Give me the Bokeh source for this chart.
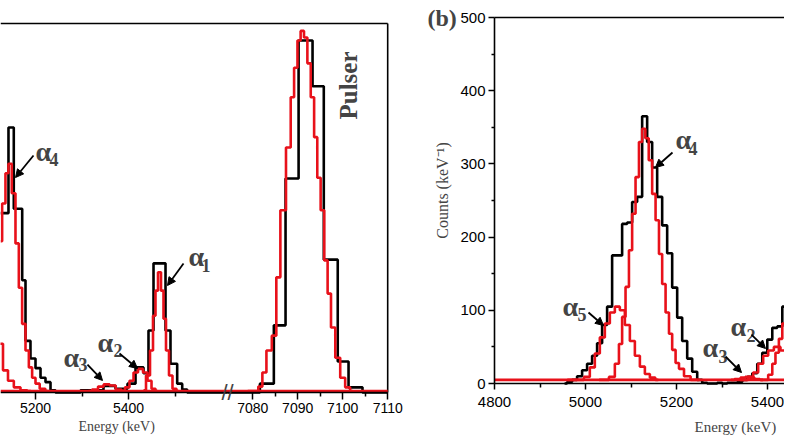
import numpy as np
from bokeh.plotting import figure
from bokeh.layouts import row
from bokeh.models import Range1d, FixedTicker, Label, Arrow, NormalHead, Title
from bokeh.embed import file_html
from bokeh.resources import INLINE

RED = "#e8111a"

# ---------------- panel (a) data ----------------
a_black_lo_edges = [5124.7, 5141.9, 5153.3, 5171.4, 5178.5, 5189.2, 5200.0, 5210.8, 5221.5, 5232.3,
                    5243.0, 5296.8, 5346.2, 5372.0, 5397.8, 5415.1, 5432.3, 5443.0, 5453.8, 5479.6,
                    5490.3, 5504.7, 5515.5, 5526.2]
a_black_lo_counts = [243, 359, 249, 152, 70, 46, 33, 20, 14, 3,
                     0, 3, 9, 5, 12, 34, 26, 84, 175, 84, 39, 12, 4]
a_black_hi_edges = [7081.6, 7084.7, 7087.3, 7090.2, 7093.3, 7095.8, 7098.9, 7101.3, 7104.4]
a_black_hi_counts = [12, 91, 290, 477, 415, 180, 42, 7]

a_red_a5_E = [5110.0, 5124.7, 5135.5, 5146.2, 5160.6, 5174.8, 5190.0]
a_red_a5_C = [95, 66, 30, 16, 7, 3, 2]
a_red_a4_E = [5124.7, 5131.8, 5139.0, 5144.7, 5153.3, 5160.6, 5167.7, 5174.8, 5182.2, 5189.2,
              5196.3, 5203.7, 5214.4, 5228.0]
a_red_a4_C = [205, 256, 297, 310, 270, 202, 142, 93, 57, 34, 20, 12, 5, 2]
a_red_a3_E = [5314, 5329, 5340, 5353, 5366, 5379, 5391]
a_red_a3_C = [2, 4, 8, 11, 9.5, 4, 2]
a_red_a2_E = [5387.1, 5397.8, 5406.5, 5415.1, 5425.8, 5436.6, 5445.2, 5453.8, 5462.4]
a_red_a2_C = [2, 7, 16, 27, 32, 27, 16, 5, 2]
a_red_a1_E = [5432.3, 5443.0, 5449.5, 5455.9, 5460.2, 5466.7, 5473.1, 5477.4, 5483.9, 5490.3,
              5498.9, 5507.5]
a_red_a1_C = [3, 23, 57, 104, 138, 163, 138, 100, 57, 23, 5, 2]
a_red_pulser_E = [7078.9, 7080.7, 7081.8, 7082.5, 7083.6, 7084.9, 7085.6, 7086.7, 7088.1, 7088.8,
                  7089.6, 7090.3, 7091.0, 7091.8, 7092.5, 7093.3, 7094.0, 7094.7, 7095.5, 7096.3,
                  7097.0, 7097.8, 7098.9, 7100.0, 7101.1, 7102.2]
a_red_pulser_C = [2, 2, 8, 27, 57, 77, 156, 247, 332, 400,
                  440, 477, 490, 481, 446, 400, 346, 291, 247, 179,
                  134, 88, 47, 20, 7, 2]
a_red_bg_E = [5124.7, 7110.0]
a_red_bg_C = [2, 2]
a_ticks = [5200, 5400, 7080, 7090, 7100, 7110]
a_minor = [5300, 5500, 7085, 7095, 7105]

# ---------------- panel (b) data ----------------
b_black_E = [4954, 4965, 4976, 4987, 4998, 5009, 5020, 5031, 5042, 5053,
             5064, 5075, 5086, 5097, 5108, 5119, 5130, 5141, 5152, 5163,
             5174, 5185, 5196, 5207, 5218, 5229, 5240, 5251, 5262, 5273,
             5284, 5295, 5306, 5317, 5328, 5339, 5350, 5361, 5372, 5383,
             5394, 5405, 5416, 5427, 5438, 5449, 5460]
b_black_C = [0, 2, 5, 10, 18, 27, 38, 55, 80, 105,
             175, 175, 218, 220, 248, 255, 365, 330, 295, 255,
             216, 178, 131, 90, 58, 34, 16, 5, 1, 0,
             0, 1, 0, 1, 1, 2, 5, 9, 14, 27,
             42, 60, 76, 78, 105, 130, 160]
b_red_a5_E = [4960, 4989, 5004, 5015, 5026, 5037, 5048, 5059, 5070, 5081, 5092, 5103, 5114, 5125,
              5136, 5147, 5160]
b_red_a5_C = [5, 5, 9, 22, 41, 63, 82, 97, 105, 100, 80, 58, 38, 23, 13, 8, 5]
b_red_a4_E = [5030, 5044, 5059, 5070, 5077, 5084, 5092, 5099, 5106, 5114, 5121, 5128, 5135, 5143,
              5150, 5158, 5165, 5172, 5180, 5187, 5194, 5202, 5209, 5224, 5238, 5250]
b_red_a4_C = [5, 5, 9, 27, 54, 91, 132, 182, 232, 282, 330, 348, 335, 305,
              259, 223, 177, 136, 97, 68, 46, 28, 20, 10, 5, 5]
b_red_a3_E = [5320, 5335, 5346, 5356, 5366, 5377, 5390]
b_red_a3_C = [5, 6, 8, 9, 8, 6, 5]
b_red_a2_E = [5340, 5352, 5363, 5374, 5385, 5396, 5407, 5421, 5436, 5447, 5458, 5469, 5480]
b_red_a2_C = [5, 5, 9, 15, 27, 38, 45, 50, 45, 34, 20, 8, 5]
b_red_a1_E = [5385, 5396, 5407, 5414, 5421, 5429, 5436, 5443, 5451, 5458, 5465, 5473]
b_red_a1_C = [5, 5, 12, 27, 42, 61, 82, 108, 128, 138, 133, 122]
b_red_bg_E = [4800.0, 5480.0]
b_red_bg_C = [5, 5]
b_ticks = [4800, 5000, 5200, 5400]
b_minor = [4900, 5100, 5300]
b_yticks = [0, 100, 200, 300, 400, 500]
b_yminor = [50, 150, 250, 350, 450]

# ---------------- broken axis transform for panel (a) ----------------
LO_END = 5612.9
HI_START = 7074.4
HI_STRETCH = 9.677


def brk(E):
    E = np.asarray(E, dtype=float)
    return np.where(E <= LO_END, E, LO_END + (E - HI_START) * HI_STRETCH)


def style_axis(ax, size):
    ax.axis_line_width = 1.6
    ax.major_tick_in = 0
    ax.major_tick_out = 7
    ax.minor_tick_in = 0
    ax.minor_tick_out = 4
    ax.major_tick_line_width = 1.5
    ax.minor_tick_line_width = 1.5
    ax.major_label_text_font = "Liberation Sans"
    ax.major_label_text_font_size = size
    ax.major_label_text_color = "black"


def alpha_label(p, xa, ya, xs, ys, sub):
    p.add_layout(Label(x=xa, y=ya, text="α", text_font="Liberation Serif", text_font_style="bold",
                       text_font_size="28px", text_align="left", text_baseline="alphabetic"))
    p.add_layout(Label(x=xs, y=ys, text=sub, text_font="Liberation Serif", text_font_style="bold",
                       text_font_size="18px", text_align="left", text_baseline="alphabetic"))


def arrow(p, x0, y0, x1, y1):
    p.add_layout(Arrow(end=NormalHead(size=8, fill_color="black", line_color="black"),
                       x_start=x0, y_start=y0, x_end=x1, y_end=y1,
                       line_color="black", line_width=1.8))


H = 438
BOTTOM = 22
FRAME_BOTTOM = H - BOTTOM   # pixel row of the frame bottom

# ---------------- figure (a) ----------------
u_start = 5124.73
u_end = float(brk(7110))
pa = figure(width=458, height=H, output_backend="svg", toolbar_location=None,
            x_range=Range1d(u_start, u_start + 458 / 0.465),
            y_range=Range1d(-(FRAME_BOTTOM - 392) / 0.738, 392 / 0.738),
            y_axis_location=None, min_border_left=0, min_border_right=0,
            min_border_top=0, min_border_bottom=BOTTOM)
pa.grid.visible = False
pa.outline_line_color = None

tk = [round(float(v), 3) for v in brk(a_ticks)]
mk = [round(float(v), 3) for v in brk(a_minor)]
pa.xaxis.ticker = FixedTicker(ticks=tk, minor_ticks=mk)
pa.xaxis.major_label_overrides = {t: str(l) for t, l in zip(tk, a_ticks)}
pa.xaxis.bounds = (u_start, u_end + 0.01)
pa.xaxis.fixed_location = 0
style_axis(pa.xaxis[0], "14px")
pa.xaxis.major_label_standoff = 3

# frame borders of panel (a)
pa.segment(x0=[u_start, u_end], y0=[500, 0], x1=[u_end, u_end], y1=[500, 500],
           line_color="black", line_width=1.6)

# black data
xs_lo = list(a_black_lo_edges) + [LO_END]
ys_lo = list(a_black_lo_counts) + [0, 0]
pa.step(xs_lo, ys_lo, mode="after", line_color="black", line_width=2.6)
xs_hi = [HI_START] + list(a_black_hi_edges) + [7110.0]
ys_hi = [0] + list(a_black_hi_counts) + [0, 0]
pa.step(brk(xs_hi), ys_hi, mode="after", line_color="black", line_width=2.6)

# red fits
pa.line(brk(a_red_bg_E), a_red_bg_C, line_color=RED, line_width=2.6)
for E, C in [(a_red_a5_E, a_red_a5_C), (a_red_a4_E, a_red_a4_C), (a_red_a3_E, a_red_a3_C),
             (a_red_a2_E, a_red_a2_C), (a_red_a1_E, a_red_a1_C), (a_red_pulser_E, a_red_pulser_C)]:
    pa.step(brk(E), C, mode="center", line_color=RED, line_width=2.6)

alpha_label(pa, 5200.0, 326.6, 5230.1, 315.8, "4")
arrow(pa, 5195.7, 321.1, 5157.0, 291.3)
alpha_label(pa, 5529.0, 184.3, 5557.0, 172.1, "1")
arrow(pa, 5518.3, 174.8, 5483.9, 145.0)
alpha_label(pa, 5333.3, 67.8, 5367.7, 56.9, "2")
arrow(pa, 5380.6, 52.8, 5419.4, 32.5)
alpha_label(pa, 5260.2, 47.4, 5292.5, 38.0, "3")
arrow(pa, 5311.8, 37.9, 5344.1, 16.3)

pa.add_layout(Label(x=5873.1, y=416.0, text="Pulser", angle=np.pi / 2, text_font="Liberation Serif",
                    text_font_style="bold", text_font_size="25px", text_align="center",
                    text_baseline="middle"))
pa.add_layout(Label(x=LO_END, y=0, text="//", text_font="Liberation Sans",
                    text_font_size="22px", text_align="center", text_baseline="middle"))
# labels of panel (b) that lie left of its axis
pa.add_layout(Label(x=6043.0, y=508.1, text="(b)", text_font="Liberation Serif", text_font_style="bold",
                    text_font_size="24px", text_align="left", text_baseline="alphabetic"))
pa.add_layout(Label(x=6075.3, y=273.7, text="Counts (keV⁻¹)", angle=np.pi / 2,
                    text_font="Liberation Serif", text_font_size="16px", text_align="center",
                    text_baseline="middle"))
pa.add_layout(Title(text="Energy (keV)", align="left", offset=78, standoff=0,
                    text_font="Liberation Serif", text_font_size="14px", text_font_style="normal"),
              "below")

# ---------------- figure (b) ----------------
x_start_b = 4800 - 36 / 0.455
x_end_b = 4800 + 290 / 0.455
pb = figure(width=326, height=H, output_backend="svg", toolbar_location=None,
            x_range=Range1d(x_start_b, x_end_b),
            y_range=Range1d(-(FRAME_BOTTOM - 383) / 0.732, 500 + 17 / 0.732),
            min_border_left=0, min_border_right=0, min_border_top=0, min_border_bottom=BOTTOM)
pb.grid.visible = False
pb.outline_line_color = None
pb.xaxis.ticker = FixedTicker(ticks=b_ticks, minor_ticks=b_minor)
pb.yaxis.ticker = FixedTicker(ticks=b_yticks, minor_ticks=b_yminor)
style_axis(pb.xaxis[0], "15px")
style_axis(pb.yaxis[0], "15px")
pb.xaxis.fixed_location = 0
pb.xaxis.bounds = (4800, x_end_b)
pb.yaxis.fixed_location = 4800
pb.yaxis.bounds = (0, 500)
pb.xaxis.major_tick_out = 6
pb.yaxis.major_tick_out = 6
pb.yaxis.minor_tick_out = 3
pb.xaxis.major_label_standoff = 7
pb.yaxis.major_label_standoff = 3

pb.segment(x0=[4800], y0=[500], x1=[x_end_b], y1=[500], line_color="black", line_width=1.6)

pb.step(b_black_E, b_black_C, mode="center", line_color="black", line_width=2.6)
pb.line(b_red_bg_E, b_red_bg_C, line_color=RED, line_width=2.6)
for E, C in [(b_red_a5_E, b_red_a5_C), (b_red_a4_E, b_red_a4_C), (b_red_a3_E, b_red_a3_C),
             (b_red_a2_E, b_red_a2_C), (b_red_a1_E, b_red_a1_C)]:
    pb.step(E, C, mode="center", line_color=RED, line_width=2.6)

alpha_label(pb, 5197.8, 333.3, 5226.4, 321.0, "4")
arrow(pb, 5191.2, 315.6, 5153.8, 295.1)
alpha_label(pb, 4949.5, 105.2, 4982.4, 94.2, "5")
arrow(pb, 5006.6, 97.0, 5039.6, 79.2)
alpha_label(pb, 5257.1, 49.2, 5292.3, 36.9, "3")
arrow(pb, 5307.7, 36.9, 5342.9, 15.0)
alpha_label(pb, 5318.7, 77.9, 5353.8, 65.5, "2")
arrow(pb, 5364.8, 66.9, 5395.6, 47.8)

pb.add_layout(Title(text="Energy (keV)", align="left", offset=236, standoff=0,
                    text_font="Liberation Serif", text_font_size="15px", text_font_style="normal"),
              "below")

layout = row(pa, pb)
open("out.html", "w").write(file_html(layout, INLINE))
